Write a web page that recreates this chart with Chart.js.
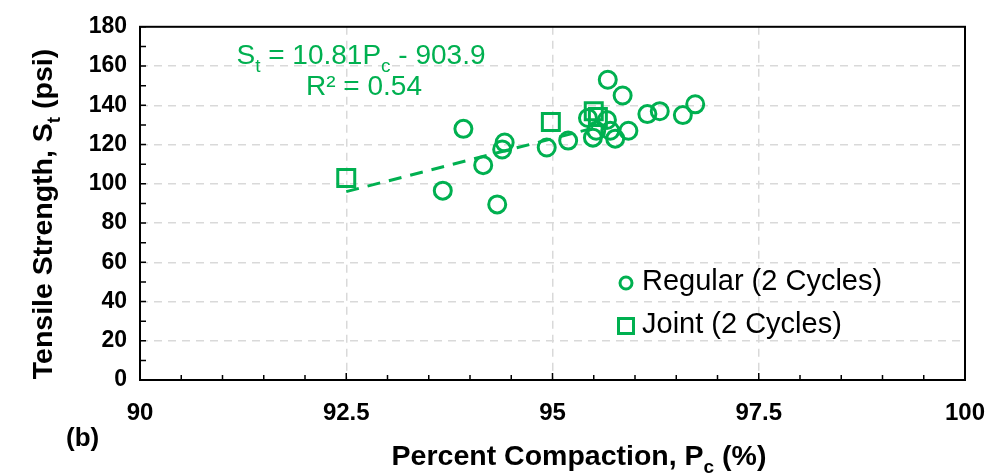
<!DOCTYPE html>
<html>
<head>
<meta charset="utf-8">
<script src="https://cdn.jsdelivr.net/npm/chart.js@4.4.1/dist/chart.umd.min.js"></script>
<style>
  html, body { margin: 0; padding: 0; background: #fff; }
  #wrap { width: 1007px; height: 473px; }
</style>
</head>
<body>
<div id="wrap"><canvas id="tensile"></canvas></div>
<script>
// Regular specimens (2 cycles)
const regularPc = [93.67, 93.92, 94.16, 94.33, 94.39, 94.42, 94.93, 95.19, 95.43, 95.49,
                   95.53, 95.66, 95.67, 95.70, 95.76, 95.85, 95.92, 96.15, 96.30, 96.58, 96.73];
const regularSt = [96.5, 128, 109.5, 89.5, 117.5, 121, 118.5, 122, 133.5, 123.5,
                   127, 132.5, 153, 127, 123, 145, 127, 135.5, 137, 135, 140.5];

// Joint specimens (2 cycles)
const jointPc = [92.5, 94.98, 95.50, 95.55];
const jointSt = [103, 131.5, 137, 134];

// linear trendline end points
const trendPc = [92.5, 95.6];
const trendSt = [96, 129.5];

const xTicks = [90, 92.5, 95, 97.5, 100];
const yTicks = [0, 20, 40, 60, 80, 100, 120, 140, 160, 180];

const GREEN = '#00B050';
const FONT = 'Arial, "Liberation Sans", sans-serif';

function toPoints(xs, ys) {
  let pts = [];
  for (let i = 0; i < xs.length; i++) pts.push({x: xs[i], y: ys[i]});
  return pts;
}

// draws text pieces, some of them as subscripts
function drawRich(ctx, parts, x, y, size, weight, color, align) {
  const sub = Math.round(size * 0.68);
  let total = 0;
  parts.forEach(p => {
    ctx.font = weight + ' ' + (p.sub ? sub : size) + 'px ' + FONT;
    p.w = ctx.measureText(p.t).width;
    total += p.w;
  });
  let cx = align === 'center' ? x - total / 2 : x;
  ctx.fillStyle = color;
  ctx.textAlign = 'left';
  ctx.textBaseline = 'alphabetic';
  parts.forEach(p => {
    ctx.font = weight + ' ' + (p.sub ? sub : size) + 'px ' + FONT;
    ctx.fillText(p.t, cx, p.sub ? y + size * 0.28 : y);
    cx += p.w;
  });
}

const decorations = {
  id: 'decorations',
  afterDatasetsDraw(chart) {
    const ctx = chart.ctx;
    const a = chart.chartArea;
    const xs = chart.scales.x, ys = chart.scales.y;
    ctx.save();

    // frame
    ctx.strokeStyle = '#000';
    ctx.lineWidth = 2;
    ctx.setLineDash([]);
    ctx.strokeRect(a.left, a.top, a.right - a.left, a.bottom - a.top);

    // inward tick marks
    ctx.lineWidth = 1.5;
    ctx.beginPath();
    for (let v = 0; v <= 180; v += 10) {
      const py = ys.getPixelForValue(v);
      ctx.moveTo(a.left, py);
      ctx.lineTo(a.left + 6, py);
    }
    for (let v = 90; v <= 100.001; v += 0.5) {
      const px = xs.getPixelForValue(v);
      const len = (Math.abs(v / 2.5 - Math.round(v / 2.5)) < 0.001) ? 7 : 5;
      ctx.moveTo(px, a.bottom);
      ctx.lineTo(px, a.bottom - len);
    }
    ctx.stroke();

    // axis titles
    drawRich(ctx, [{t: 'Percent Compaction, P'}, {t: 'c', sub: true}, {t: ' (%)'}],
      579, 465, 28.5, 'bold', '#000', 'center');
    ctx.save();
    ctx.translate(52, 214);
    ctx.rotate(-Math.PI / 2);
    drawRich(ctx, [{t: 'Tensile Strength, S'}, {t: 't', sub: true}, {t: ' (psi)'}],
      0, 0, 28.5, 'bold', '#000', 'center');
    ctx.restore();

    // panel letter
    ctx.font = 'bold 26px ' + FONT;
    ctx.fillStyle = '#000';
    ctx.textAlign = 'left';
    ctx.fillText('(b)', 66, 446);

    // trendline equation
    drawRich(ctx, [{t: 'S'}, {t: 't', sub: true}, {t: ' = 10.81P'}, {t: 'c', sub: true}, {t: ' - 903.9'}],
      361, 64, 28, 'normal', GREEN, 'center');
    drawRich(ctx, [{t: 'R² = 0.54'}], 364, 95, 28, 'normal', GREEN, 'center');

    // legend
    const items = [chart.data.datasets[0], chart.data.datasets[1]];
    items.forEach((ds, i) => {
      const ly = 283 + i * 43;
      ctx.strokeStyle = GREEN;
      ctx.fillStyle = 'rgba(0,0,0,0)';
      ctx.lineWidth = 3;
      Chart.helpers.drawPoint(ctx, {pointStyle: ds.pointStyle, radius: i === 0 ? 6 : 10.6, borderWidth: 3}, 626, ly);
      ctx.fillStyle = '#000';
      ctx.font = '29px ' + FONT;
      ctx.textBaseline = 'alphabetic';
      ctx.fillText(ds.label, 642, ly + 7);
    });
    ctx.restore();
  }
};

new Chart(document.getElementById('tensile'), {
  type: 'scatter',
  data: {
    datasets: [
      {
        label: 'Regular (2 Cycles)',
        data: toPoints(regularPc, regularSt),
        pointStyle: 'circle',
        pointRadius: 8.5,
        pointBorderWidth: 3,
        borderColor: GREEN,
        backgroundColor: 'rgba(0,0,0,0)'
      },
      {
        label: 'Joint (2 Cycles)',
        data: toPoints(jointPc, jointSt),
        pointStyle: 'rect',
        pointRadius: 12,
        pointBorderWidth: 3,
        borderColor: GREEN,
        backgroundColor: 'rgba(0,0,0,0)'
      },
      {
        type: 'line',
        label: 'Trend',
        data: toPoints(trendPc, trendSt),
        borderColor: GREEN,
        borderWidth: 3,
        borderDash: [13, 9],
        pointRadius: 0,
        fill: false
      }
    ]
  },
  options: {
    responsive: true,
    maintainAspectRatio: false,
    animation: false,
    layout: { padding: { top: 20, right: 42, left: 0, bottom: 0 } },
    plugins: {
      legend: { display: false },
      tooltip: { enabled: false }
    },
    scales: {
      x: {
        type: 'linear',
        min: xTicks[0],
        max: xTicks[xTicks.length - 1],
        afterBuildTicks: s => { s.ticks = xTicks.map(v => ({value: v})); },
        afterFit: s => { s.height = 93; },
        ticks: {
          font: { family: FONT, size: 24, weight: 'bold' },
          color: '#000',
          padding: 19,
          maxRotation: 0
        },
        grid: {
          drawTicks: false,
          lineWidth: 1.5,
          color: c => (c.tick && (c.tick.value === 90 || c.tick.value === 100)) ? 'rgba(0,0,0,0)' : '#d9d9d9'
        },
        border: { display: false, dash: [8, 6] }
      },
      y: {
        type: 'linear',
        min: yTicks[0],
        max: yTicks[yTicks.length - 1],
        afterBuildTicks: s => { s.ticks = yTicks.map(v => ({value: v})); },
        afterFit: s => { s.width = 140; },
        ticks: {
          font: { family: FONT, size: 23, weight: 'bold' },
          color: '#000',
          padding: 13
        },
        grid: {
          drawTicks: false,
          lineWidth: 1.5,
          color: c => (c.tick && (c.tick.value === 0 || c.tick.value === 180)) ? 'rgba(0,0,0,0)' : '#d9d9d9'
        },
        border: { display: false, dash: [8, 6] }
      }
    }
  },
  plugins: [decorations]
});
</script>
</body>
</html>
